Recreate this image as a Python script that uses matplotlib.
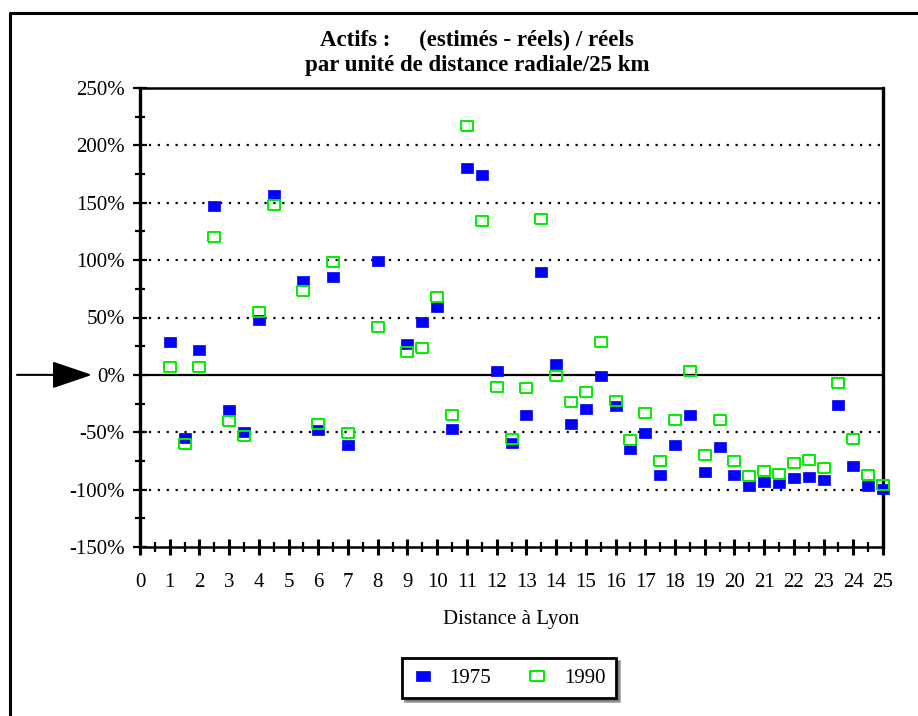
import matplotlib
matplotlib.use("Agg")
import matplotlib.pyplot as plt
import matplotlib.transforms as mtransforms
from matplotlib.lines import Line2D

# distance to Lyon (units of 25 km)
distance = [1, 1.5, 2, 2.5, 3, 3.5, 4, 4.5, 5.5, 6, 6.5, 7, 8, 9, 9.5, 10, 10.5,
            11, 11.5, 12, 12.5, 13, 13.5, 14, 14.5, 15, 15.5, 16, 16.5, 17, 17.5,
            18, 18.5, 19, 19.5, 20, 20.5, 21, 21.5, 22, 22.5, 23, 23.5, 24, 24.5, 25]

# (estimes - reels) / reels, in %
ecart_1975 = [29, -55, 22, 147, -31, -50, 48, 157, 82, -48, 85, -61, 99, 27, 46, 59, -47,
              180, 174, 3.5, -59, -35, 90, 9.5, -43, -30, -1, -27, -65, -50.5, -87,
              -61, -35, -85, -63, -87, -97, -93, -94, -90, -89, -92, -26, -79, -96.5, -99.5]
ecart_1990 = [6.5, -60, 6.5, 120, -40, -53, 55, 148, 73.5, -43, 98, -51, 42, 20, 23, 68, -35,
              217, 134.5, -11, -56, -11.5, 136, -1, -24, -14.5, 29, -23, -57, -33, -75,
              -39, 3, -69.5, -39.5, -75, -88.5, -83.5, -86, -76.5, -74.5, -81.5, -7, -56, -87, -96]

series_labels = ["1975", "1990"]
y_ticks = [-150, -100, -50, 0, 50, 100, 150, 200, 250]
y_ticklabels = ["-150%", "-100%", "-50%", "0%", "50%", "100%", "150%", "200%", "250%"]

plt.rcParams["font.family"] = ["Liberation Serif", "DejaVu Serif"]

W, H = 918, 716
fig = plt.figure(figsize=(W / 100, H / 100), dpi=100)
ax = fig.add_axes([140 / W, 1 - 547 / H, (883 - 140) / W, (547 - 88) / H])

# rectangular marker, a bit wider than tall
rect = [(-1.3, -1), (1.3, -1), (1.3, 1), (-1.3, 1), (-1.3, -1)]

ax.plot(distance, ecart_1975, linestyle="none", marker=rect, markersize=9,
        markerfacecolor="#0000ff", markeredgecolor="#0000ff", markeredgewidth=0.5,
        clip_on=False, zorder=3, label=series_labels[0])
ax.plot(distance, ecart_1990, linestyle="none", marker=rect, markersize=9,
        markerfacecolor="none", markeredgecolor="#00ee00", markeredgewidth=1.4,
        clip_on=False, zorder=4, label=series_labels[1])

ax.set_xlim(0, 25)
ax.set_ylim(-150, 250)

# grid lines
for v in [200, 150, 100, 50, -50, -100]:
    ax.axhline(v, color="black", linestyle=(0, (1, 3)), linewidth=1.6, zorder=1)
ax.axhline(0, color="black", linewidth=1.6, zorder=2)

ax.set_yticks(y_ticks)
ax.set_yticklabels(y_ticklabels)
ax.set_yticks(range(-125, 250, 50), minor=True)
ax.set_xticks(range(0, 26))
ax.set_xticks([i + 0.5 for i in range(25)], minor=True)

ax.tick_params(axis="y", which="major", direction="inout", length=10, width=1.6,
               labelsize=15, pad=6)
ax.tick_params(axis="y", which="minor", direction="inout", length=7, width=1.6)
ax.tick_params(axis="x", which="major", direction="inout", length=12, width=2.2,
               labelsize=15, pad=13)
ax.tick_params(axis="x", which="minor", direction="inout", length=7, width=1.6)

for s in ["left", "right"]:
    ax.spines[s].set_linewidth(2.4)
for s in ["top", "bottom"]:
    ax.spines[s].set_linewidth(1.8)

ax.set_xlabel("Distance à Lyon", fontsize=15, labelpad=13)

# titles
fig.text(477 / W, 1 - 40 / H, "Actifs :     (estimés - réels) / réels",
         ha="center", va="center", fontsize=16.5, fontweight="bold")
fig.text(477 / W, 1 - 66 / H, "par unité de distance radiale/25 km",
         ha="center", va="center", fontsize=16.5, fontweight="bold")

# arrow pointing at 0%
trans = mtransforms.blended_transform_factory(fig.transFigure, ax.transData)
ax.annotate("", xy=(92 / W, 0), xycoords=trans, xytext=(17 / W, 0), textcoords=trans,
            annotation_clip=False,
            arrowprops=dict(arrowstyle="-|>,head_length=2.5,head_width=0.85",
                            mutation_scale=10, color="black", linewidth=1.5,
                            shrinkA=0, shrinkB=0))

# outer frame (only left and top edges visible)
fig.add_artist(Line2D([10 / W, 10 / W, 1.0], [0, 1 - 13 / H, 1 - 13 / H],
                      transform=fig.transFigure, color="black", linewidth=2.2))

leg = fig.legend(loc="center", bbox_to_anchor=(509 / W, 1 - 678 / H), ncol=2,
                 fontsize=15, frameon=True, fancybox=False, shadow=True,
                 edgecolor="black", handlelength=1.0, handletextpad=0.8,
                 columnspacing=1.7, borderpad=0.5, markerscale=1.1)
leg.get_frame().set_linewidth(2)

fig.savefig("out.png", dpi=100)
